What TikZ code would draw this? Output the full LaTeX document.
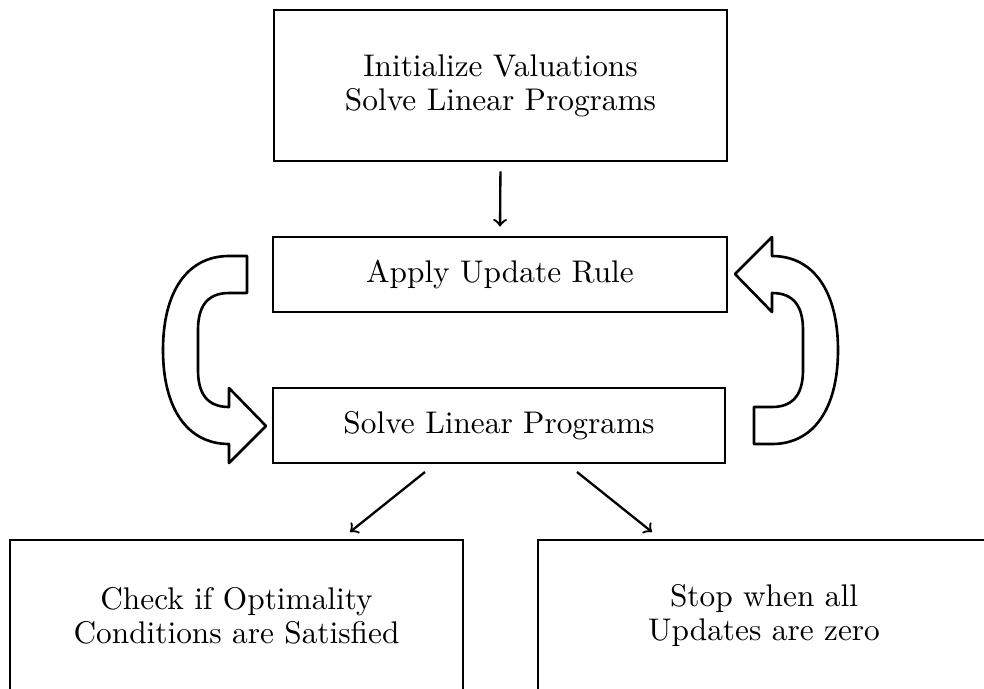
\documentclass[tikz,border=0pt]{standalone}
\usepackage{fontspec}
\setmainfont{Latin Modern Roman}
\usetikzlibrary{calc}
\newcommand\pxu{0.3448pt}
\tikzset{
  box/.style={draw, line width=1pt, align=center, inner sep=0pt,
    font=\fontsize{10.8}{11.8}\selectfont},
  conn/.style={->, line width=0.8pt},
  uturn/.style={draw, line width=0.9pt, fill=white, line join=round}
}
\newcommand\uturnpath{%
  (-37,-76) -- (0,-113) -- (0,-94)
  .. controls (42,-94) and (66,-58) .. (66,0)
  .. controls (66,58) and (42,94) .. (0,94) -- (-18,94) -- (-18,57) -- (0,57)
  .. controls (23,57) and (31,42) .. (31,20) -- (31,-20)
  .. controls (31,-42) and (23,-57) .. (0,-57) -- (0,-38) -- cycle}
\begin{document}
\begin{tikzpicture}[x=\pxu, y=-\pxu]
\useasboundingbox (0,0) rectangle (984,688);
\clip (0,0) rectangle (984,688);
\node[box, minimum width=453*\pxu, minimum height=151*\pxu] (init) at (500.5,85.5)
  {Initialize Valuations\\Solve Linear Programs};
\node[box, minimum width=454*\pxu, minimum height=75*\pxu] (upd) at (500,274.5)
  {Apply Update Rule};
\node[box, minimum width=452*\pxu, minimum height=75*\pxu] (slp) at (499,425.5)
  {Solve Linear Programs};
\node[box, minimum width=453*\pxu, minimum height=151*\pxu] (chk) at (236.5,615.5)
  {Check if Optimality\\Conditions are Satisfied};
\node[box, minimum width=452*\pxu, minimum height=151*\pxu] (stop) at (764,615.5)
  {Stop when all\\Updates are zero};
\draw[conn, shorten <=9*\pxu, shorten >=9*\pxu] (init.south) -- (upd.north);
\coordinate (l1) at (425,472);
\coordinate (l2) at (350,532);
\coordinate (r1) at (577,472);
\coordinate (r2) at (652,532);
\draw[conn] (l1) -- (l2);
\draw[conn] (r1) -- (r2);
\begin{scope}[shift={(772,350)}]
  \path[uturn] \uturnpath;
\end{scope}
\begin{scope}[shift={(229,350)}, rotate=180]
  \path[uturn] \uturnpath;
\end{scope}
\end{tikzpicture}
\end{document}
